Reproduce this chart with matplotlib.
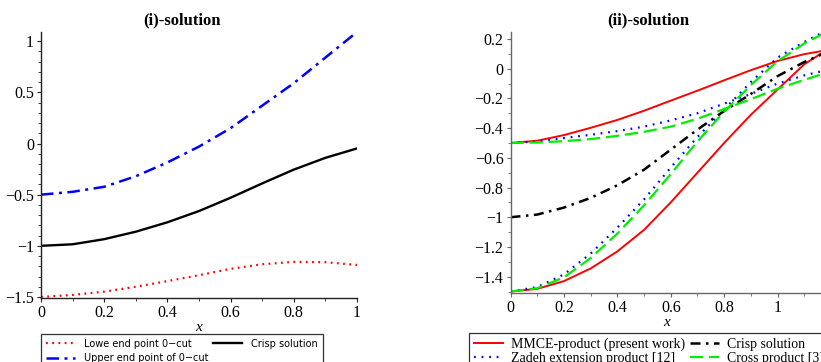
import matplotlib
matplotlib.use("Agg")
import matplotlib.pyplot as plt
from matplotlib.ticker import MultipleLocator

# ---- data ----------------------------------------------------------------
x_i = [0, 0.1, 0.2, 0.3, 0.4, 0.5, 0.6, 0.7, 0.8, 0.9, 1.0]
lower_i = [-1.5, -1.48, -1.448, -1.40, -1.345, -1.287, -1.225, -1.18, -1.157, -1.16, -1.187]
upper_i = [-0.5, -0.472, -0.423, -0.32, -0.185, -0.03, 0.15, 0.37, 0.59, 0.84, 1.09]
crisp_i = [-1.0, -0.985, -0.935, -0.862, -0.77, -0.66, -0.53, -0.39, -0.255, -0.14, -0.048]

x_ii = [0, 0.1, 0.2, 0.3, 0.4, 0.5, 0.6, 0.7, 0.8, 0.9, 1.0, 1.1, 1.17]
mmce_up = [-0.5, -0.485, -0.447, -0.398, -0.345, -0.283, -0.215, -0.148, -0.078, -0.01, 0.052, 0.098, 0.12]
mmce_lo = [-1.5, -1.482, -1.43, -1.345, -1.23, -1.085, -0.90, -0.70, -0.50, -0.31, -0.14, 0.03, 0.11]
crisp_ii = [-1.0, -0.982, -0.935, -0.87, -0.785, -0.68, -0.545, -0.41, -0.285, -0.17, -0.05, 0.045, 0.10]
zadeh_up = [-0.5, -0.49, -0.467, -0.445, -0.42, -0.39, -0.348, -0.30, -0.235, -0.17, -0.10, -0.045, -0.015]
zadeh_lo = [-1.5, -1.47, -1.385, -1.245, -1.07, -0.88, -0.665, -0.46, -0.275, -0.09, 0.075, 0.18, 0.245]
cross_up = [-0.5, -0.497, -0.488, -0.474, -0.452, -0.425, -0.39, -0.337, -0.272, -0.205, -0.135, -0.075, -0.035]
cross_lo = [-1.5, -1.478, -1.405, -1.275, -1.11, -0.92, -0.71, -0.49, -0.29, -0.11, 0.05, 0.17, 0.235]

W, H = 821, 362
plt.rcParams["font.family"] = ["Liberation Serif", "DejaVu Serif"]
plt.rcParams["axes.unicode_minus"] = True


def box(l, t, r, b):
    return [l / W, 1 - b / H, (r - l) / W, (b - t) / H]


def style_axes(ax, spine_col, ymaj):
    for s in ("top", "right"):
        ax.spines[s].set_visible(False)
    for s in ("left", "bottom"):
        ax.spines[s].set_color(spine_col)
        ax.spines[s].set_linewidth(1.0)
    ax.set_xticks([0, 0.2, 0.4, 0.6, 0.8, 1.0])
    ax.xaxis.set_minor_locator(MultipleLocator(0.1))
    ax.yaxis.set_major_locator(MultipleLocator(ymaj))
    ax.yaxis.set_minor_locator(MultipleLocator(0.1))
    ax.xaxis.set_major_formatter(plt.FuncFormatter(lambda v, p: "%g" % v))
    ax.yaxis.set_major_formatter(plt.FuncFormatter(
        lambda v, p: ("\u2212" + "%g" % abs(v)) if v < -1e-9 else "%g" % abs(v)))
    ax.tick_params(which="major", direction="out", length=3, width=0.8,
                   color=spine_col, labelsize=11.5, pad=2)
    ax.tick_params(which="minor", direction="out", length=2, width=0.6, color=spine_col)
    ax.set_xlabel("x", fontstyle="italic", fontsize=11, labelpad=0)


fig = plt.figure(figsize=(W / 100, H / 100), dpi=100)

# ---- (i) -----------------------------------------------------------------
ax1 = fig.add_axes(box(41, 32, 357, 298))
l1, = ax1.plot(x_i, lower_i, color="red", lw=1.6, linestyle=(0, (0.8, 2.0)),
               label="Lowe end point 0\u2212cut")
l2, = ax1.plot(x_i, upper_i, color="blue", lw=1.8, linestyle=(0, (5, 2.2, 1.2, 2.2)),
               label="Upper end point of 0\u2212cut")
l3, = ax1.plot(x_i, crisp_i, color="black", lw=1.7, label="Crisp solution")
ax1.set_xlim(0, 1)
ax1.set_ylim(-1.51, 1.09)
style_axes(ax1, "#222222", 0.5)

fig.text(182 / W, 1 - 20 / H, "(i)-solution", ha="center", va="center",
         fontsize=12, fontweight="bold")

leg1 = fig.legend(handles=[l1, l2, l3], loc="upper left", bbox_to_anchor=(41 / W, 1 - 334 / H),
                  ncol=2, frameon=True, fancybox=False, edgecolor="black",
                  borderaxespad=0, borderpad=0.5, handlelength=3.0, handletextpad=0.9,
                  columnspacing=0.5, labelspacing=0.45, prop={"family": "DejaVu Sans", "size": 7})
leg1.get_frame().set_linewidth(0.9)

# ---- (ii) ----------------------------------------------------------------
ax2 = fig.add_axes(box(510.5, 32, 823, 293))
m1, = ax2.plot(x_ii, mmce_up, color="red", lw=1.4, label="MMCE-product (present work)")
ax2.plot(x_ii, mmce_lo, color="red", lw=1.4)
z1, = ax2.plot(x_ii, zadeh_up, color="blue", lw=1.6, linestyle=(0, (0.8, 2.6)),
               label="Zadeh extension product [12]")
ax2.plot(x_ii, zadeh_lo, color="blue", lw=1.6, linestyle=(0, (0.8, 2.6)))
c1, = ax2.plot(x_ii, crisp_ii, color="black", lw=1.8, linestyle=(0, (4, 2.2, 1, 2.2)),
               label="Crisp solution")
g1, = ax2.plot(x_ii, cross_up, color="#00ee00", lw=1.6, linestyle=(0, (6, 2.6)),
               label="Cross product [3]")
ax2.plot(x_ii, cross_lo, color="#00ee00", lw=1.6, linestyle=(0, (6, 2.6)))
ax2.set_xlim(0, 1.17)
ax2.set_ylim(-1.51, 0.247)
style_axes(ax2, "#666666", 0.2)

fig.text(648 / W, 1 - 20 / H, "(ii)-solution", ha="center", va="center",
         fontsize=12, fontweight="bold")

leg2 = fig.legend(handles=[m1, z1, c1, g1], loc="upper left", bbox_to_anchor=(469 / W, 1 - 333 / H),
                  ncol=2, frameon=True, fancybox=False, edgecolor="black",
                  borderaxespad=0, borderpad=0.35, handlelength=2.1, handletextpad=0.6,
                  columnspacing=0.3, labelspacing=0.05, prop={"size": 10})
leg2.get_frame().set_linewidth(0.9)

fig.savefig("out.png", dpi=100)
